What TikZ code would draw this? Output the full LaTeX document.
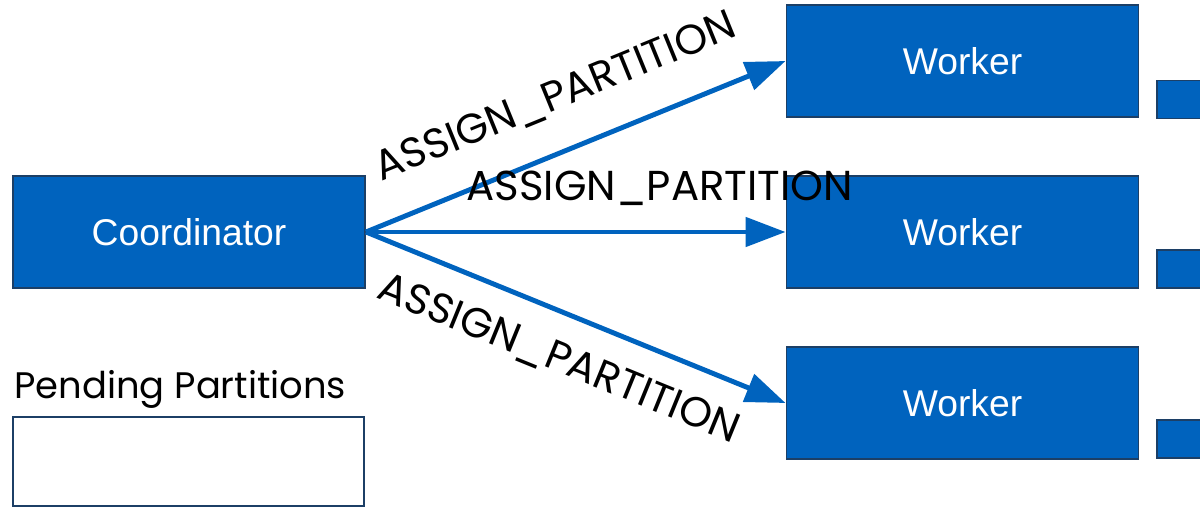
\documentclass[tikz,border=0pt]{standalone}
\usepackage{fontspec}
\setmainfont{Liberation Sans}
\newfontfamily\msgfont{Poppins}
\usetikzlibrary{arrows.meta}
\definecolor{boxblue}{RGB}{0,99,190}
\definecolor{boxedge}{RGB}{28,63,102}
\newcommand{\assign}{ASSIGN\_PARTITION}

\begin{document}
\begin{tikzpicture}[
		box/.style={draw=boxedge, line width=1.1pt, fill=boxblue, text=white, inner sep=0pt,
			minimum width=7.04cm, minimum height=2.24cm, font=\fontsize{21.2}{21.2}\selectfont},
		stub/.style={draw=boxedge, line width=1.1pt, fill=boxblue, inner sep=0pt, anchor=west,
			minimum width=1.6cm, minimum height=0.76cm},
		msgarrow/.style={draw=boxblue, line width=2.8pt, -{Triangle[length=0.8cm,width=0.58cm]}},
		msg/.style={sloped, text=black, inner sep=0pt, font=\msgfont\fontsize{23.8}{23.8}\selectfont}
	]
			\useasboundingbox (0,0) rectangle (24,10.16);

			\node[box] (coord) at (3.78,5.52) {Coordinator};

			\node[anchor=base west, inner sep=0pt, font=\msgfont\fontsize{21}{21}\selectfont] (pendlabel) at (0.28,2.2) {Pending Partitions};
			\node[draw=boxedge, line width=1.1pt, fill=white, minimum width=7.02cm, minimum height=1.78cm] (pending) at (3.77,0.93) {};

			\node[box] (w1) at (19.25,8.94) {Worker};
			\node[box] (w2) at (19.25,5.52) {Worker};
			\node[box] (w3) at (19.25,2.10) {Worker};

			\node[stub] (s1) at (23.12,8.17) {};
			\node[stub] (s2) at (23.12,4.78) {};
			\node[stub] (s3) at (23.12,1.38) {};

			\draw[msgarrow] (coord.east) -- node[msg, pos=0.5, yshift=1.06cm] {\assign} (w1.west);
			\draw[msgarrow] (coord.east) -- node[msg, pos=0.70, yshift=0.88cm] {\assign} (w2.west);
			\draw[msgarrow] (coord.east) -- node[msg, pos=0.5, yshift=-0.9cm] {\assign} (w3.west);

		\end{tikzpicture}
\end{document}
